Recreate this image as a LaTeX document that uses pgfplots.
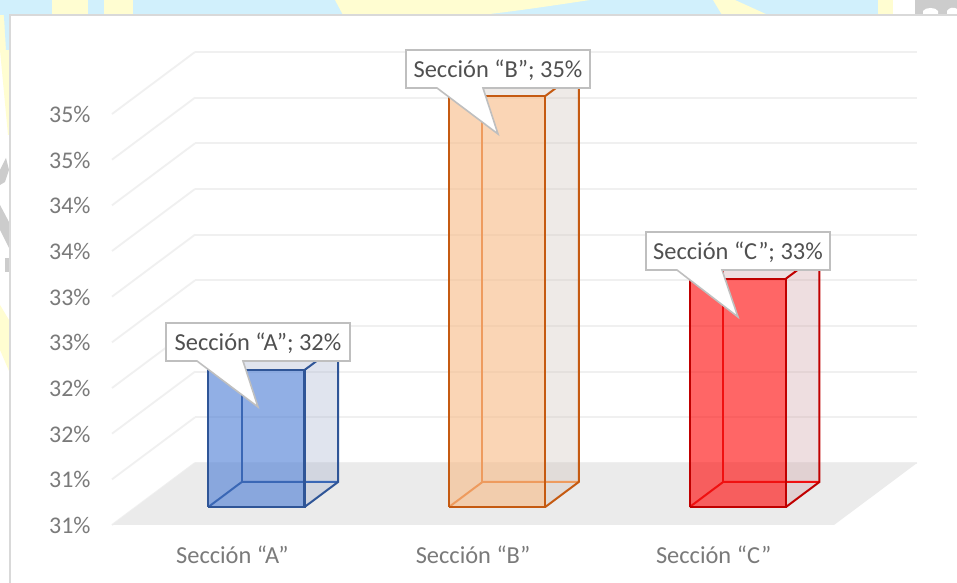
\documentclass[border=0pt]{standalone}
\usepackage{pgfplots}
\pgfplotsset{compat=1.18}
\usepackage{fontspec}
\setmainfont{Carlito}
\definecolor{gridc}{HTML}{F0F0F0}
\definecolor{floorc}{HTML}{EBEBEB}
\definecolor{tickc}{HTML}{7A7A7A}
\definecolor{labc}{HTML}{505050}
\definecolor{boxc}{HTML}{BFBFBF}
\definecolor{aE}{HTML}{2F5597}\definecolor{aM}{HTML}{3A67B5}\definecolor{aS}{HTML}{9BA8C9}\definecolor{aF}{HTML}{497BD5}
\definecolor{bE}{HTML}{C55A11}\definecolor{bM}{HTML}{EE9B5E}\definecolor{bS}{HTML}{CABCB2}\definecolor{bF}{HTML}{F8B984}
\definecolor{cE}{HTML}{C00000}\definecolor{cM}{HTML}{F01010}\definecolor{cS}{HTML}{CA9599}\definecolor{cF}{HTML}{FF0000}
% #1 x0, #2 x1, #3 value, #4 edge, #5 inner edge, #6 side fill, #7 front fill
\newcommand{\prism}[7]{
  \addplot3[draw=none,fill=#6,fill opacity=.3] coordinates {(#2,0.29,30.5) (#2,0.694,30.5) (#2,0.694,#3) (#2,0.29,#3)};
  \addplot3[draw=none,fill=#6,fill opacity=.3] coordinates {(#1,0.29,#3) (#2,0.29,#3) (#2,0.694,#3) (#1,0.694,#3)};
  \addplot3[draw=none,fill=#7,fill opacity=.6] coordinates {(#1,0.29,30.5) (#2,0.29,30.5) (#2,0.29,#3) (#1,0.29,#3)};
  \addplot3[draw=#5,line width=2bp] coordinates {(#1,0.29,30.5) (#1,0.694,30.5) (#2,0.694,30.5)};
  \addplot3[draw=#5,line width=2bp] coordinates {(#1,0.694,30.5) (#1,0.694,#3)};
  \addplot3[draw=#4,line width=2bp] coordinates {(#2,0.29,30.5) (#2,0.694,30.5) (#2,0.694,#3) (#2,0.29,#3)};
  \addplot3[draw=#4,line width=2bp] coordinates {(#1,0.694,#3) (#2,0.694,#3)};
  \addplot3[draw=#4,line width=2bp] coordinates {(#1,0.29,#3) (#1,0.694,#3)};
  \addplot3[draw=#4,line width=2.2bp] coordinates {(#1,0.29,30.5) (#2,0.29,30.5) (#2,0.29,#3) (#1,0.29,#3) (#1,0.29,30.5)};
}
\newcommand{\callout}[8]{% left right top bottom ptr1 tipx tipy ptr2
  \draw[boxc,line width=1.6bp,fill=white,line join=miter] (#1,#3) -- (#2,#3) -- (#2,#4) -- (#8,#4) -- (#6,#7) -- (#5,#4) -- (#1,#4) -- cycle;
}
\begin{document}
\begin{tikzpicture}[x=1bp,y=1bp]
\path[use as bounding box] (0,0) rectangle (957,583);
\begin{scope}[x=1bp,y=-1bp,shift={(0,-583)}]
  \fill[white] (0,0) rectangle (957,583);
  \fill[yellow!18] (0,0) -- (12,0) -- (12,135) -- (8,135) -- (0,50) -- cycle;
  \fill[yellow!18] (0,305) -- (12,325) -- (12,378) -- (0,350) -- cycle;
  \fill[cyan!18] (0,0) rectangle (893,15);
  \fill[cyan!18] (3,0) -- (12,0) -- (12,50) -- (6,50) -- cycle;
  \fill[yellow!18] (52,0) rectangle (88,15);
  \fill[yellow!18] (104,0) rectangle (133,15);
  \fill[yellow!18] (335,0) -- (590,0) .. controls (550,6) and (510,12) .. (480,15) -- (343,15) -- cycle;
  \fill[yellow!18] (713,0) -- (735,0) -- (768,15) -- (722,15) -- cycle;
  \fill[yellow!18] (878,0) rectangle (893,15);
  \fill[black!20] (915,0) rectangle (957,15);
  \fill[white] (923,15) -- (923,11) .. controls (925,7) and (936,7) .. (938,11) -- (938,15) -- cycle;
  \fill[white] (947,15) -- (947,11) .. controls (949,7) and (955,7) .. (957,9) -- (957,15) -- cycle;
  \fill[black!20] (0,170) -- (6,158) -- (9,170) -- (5,182) -- (0,185) -- cycle;
  \fill[black!20] (0,205) -- (9,222) -- (9,248) -- (0,230) -- cycle;
  \fill[black!20] (5,258) -- (9,258) -- (9,272) -- (5,272) -- cycle;
  \draw[black!15,line width=2bp,fill=white] (10,600) -- (10,15) -- (970,15) -- (970,600);
\end{scope}
\begin{axis}[
  at={(112bp,58bp)},anchor=south west,
  x={(240.67bp,0bp)},y={(83bp,62bp)},z={(0bp,91.33bp)},
  xmin=0,xmax=3,ymin=0,ymax=1,zmin=30.5,zmax=35,
  clip=false,no markers,
  axis line style={draw=none},
  tick style={draw=none},
  xtick={0.5,1.5,2.5},
  xticklabels={Sección “A”,Sección “B”,Sección “C”},
  ytick=\empty,
  ztick={30.5,31,31.5,32,32.5,33,33.5,34,34.5,35},
  zticklabels={31\%,31\%,32\%,32\%,33\%,33\%,34\%,34\%,35\%,35\%},
  xmajorgrids=false,ymajorgrids=false,zmajorgrids=true,
  grid style={gridc,line width=1.8bp},
  ticklabel style={text=tickc},
  x tick label style={font=\fontsize{24.5}{26}\selectfont,anchor=center,yshift=-30bp},
  z tick label style={font=\fontsize{24}{26}\selectfont,anchor=east,xshift=-18bp,yshift=-0.5bp},
]
\addplot3[draw=none,fill=floorc] coordinates {(0,0,30.5) (3,0,30.5) (3,1,30.5) (0,1,30.5)};
\prism{0.3}{0.7}{32}{aE}{aM}{aS}{aF}
\prism{1.3}{1.7}{35}{bE}{bM}{bS}{bF}
\prism{2.3}{2.7}{33}{cE}{cM}{cS}{cF}
\end{axis}
\begin{scope}[x=1bp,y=-1bp,shift={(0,-583)}]
  \callout{166}{350}{323}{361}{197}{258}{407}{243}
  \callout{406}{590}{50}{88}{437}{498}{134}{483}
  \callout{646}{830}{232}{270}{677}{738}{317}{722}
  \begin{scope}[every node/.style={font=\fontsize{24.5}{26}\selectfont,text=labc,anchor=base,inner sep=0pt}]
  \node at (258,351) {Sección “A”; 32\%};
  \node at (498,78) {Sección “B”; 35\%};
  \node at (738,260) {Sección “C”; 33\%};
  \end{scope}
\end{scope}
\end{tikzpicture}
\end{document}
